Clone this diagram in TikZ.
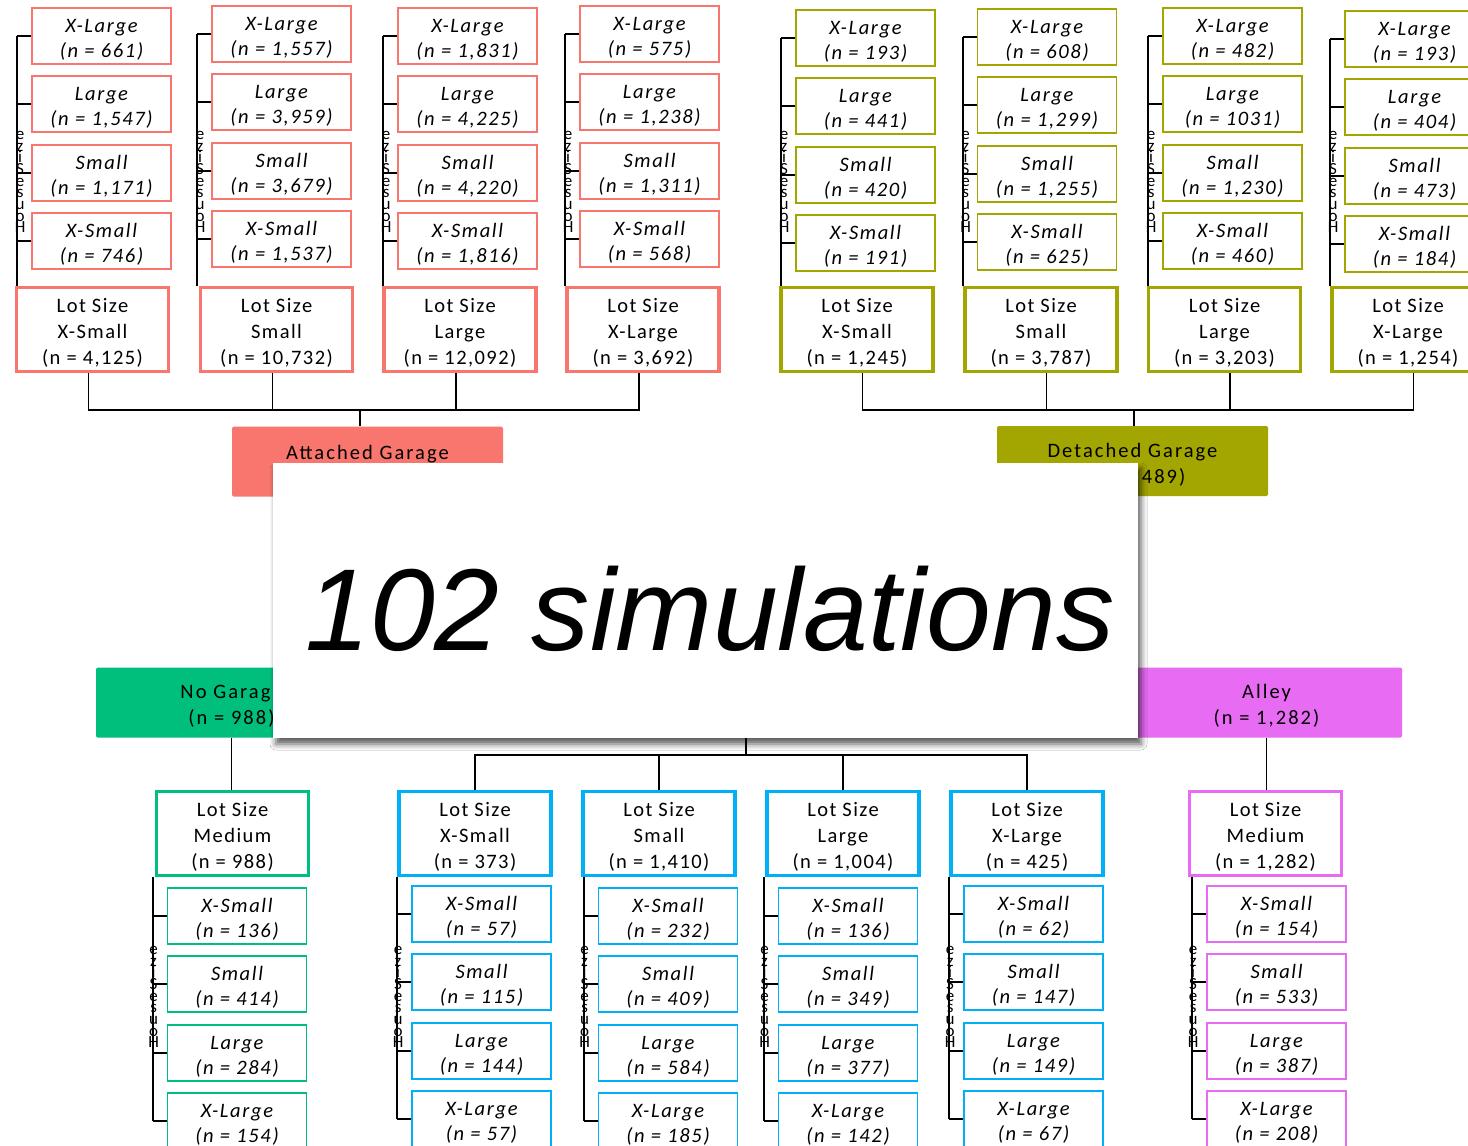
\documentclass[tikz,border=0pt]{standalone}
\usepackage{fontspec}
\setmainfont{Carlito}
\newfontfamily\cf[LetterSpace=7]{Carlito}
\newfontfamily\cfi[LetterSpace=8]{Carlito}
\newfontfamily\cfh[LetterSpace=10]{Carlito}
\newfontfamily\bigf{Liberation Sans}
\usetikzlibrary{shadows.blur}
\definecolor{cCoral}{HTML}{F8766D}
\definecolor{cOlive}{HTML}{A3A500}
\definecolor{cGreen}{HTML}{00BF7D}
\definecolor{cBlue}{HTML}{00B0F6}
\definecolor{cPink}{HTML}{E76BF3}
\newcommand\tstrut{\rule{0pt}{21pt}}
\tikzset{
  leaf/.style={draw=#1, line width=1.8pt, fill=white, minimum width=139pt, minimum height=56pt,
    inner sep=0pt, align=center, font=\cfi\itshape\fontsize{20.5}{25}\selectfont},
  lot/.style={draw=#1, line width=3.5pt, fill=white, minimum width=152pt, minimum height=84pt,
    inner sep=0pt, align=center, font=\cf\fontsize{20.5}{26}\selectfont},
  hdr/.style={fill=#1, rounded corners=1.5pt, minimum width=271pt, minimum height=70pt,
    inner sep=0pt, align=center, font=\cfh\fontsize{20.5}{26}\selectfont},
  conn/.style={line width=1.8pt, black},
  hsz/.style={inner sep=0pt, align=center, font=\fontsize{17}{11.7}\selectfont},
  coverbox/.style={fill=white, minimum width=865pt, minimum height=275pt, inner sep=0pt,
    blur shadow={shadow xshift=3pt, shadow yshift=-6pt, shadow blur radius=6pt, shadow opacity=65}},
}
% top columns: prefix, colour, leaf centre x, top of first leaf, n for X-Large, Large, Small, X-Small
\newcommand\TopCol[8]{%
  \node[leaf=#2] (#1a) at (#3,#4+29) {\tstrut X-Large\\(n = #5)};
  \node[leaf=#2] (#1b) at (#3,#4+97.3) {\tstrut Large\\(n = #6)};
  \node[leaf=#2] (#1c) at (#3,#4+165.6) {\tstrut Small\\(n = #7)};
  \node[leaf=#2] (#1d) at (#3,#4+234) {\tstrut X-Small\\(n = #8)};
}
% bottom columns: prefix, colour, leaf centre x, top of first leaf, n for X-Small, Small, Large, X-Large
\newcommand\BotCol[8]{%
  \node[leaf=#2] (#1a) at (#3,#4+29) {\tstrut X-Small\\(n = #5)};
  \node[leaf=#2] (#1b) at (#3,#4+97.3) {\tstrut Small\\(n = #6)};
  \node[leaf=#2] (#1c) at (#3,#4+165.6) {\tstrut Large\\(n = #7)};
  \node[leaf=#2] (#1d) at (#3,#4+234) {\tstrut X-Large\\(n = #8)};
}
\newcommand\HSText{\lineskiplimit=-30pt\relax e\\z\\i\\S\\e\\s\\u\\o\\H}
\newcommand\TopBracket[1]{%
  \draw[conn] ([xshift=-14pt]#1a.west) coordinate (#1k) -- (#1a.west);
  \draw[conn] (#1b.west -| #1k) -- (#1b.west);
  \draw[conn] (#1c.west -| #1k) -- (#1c.west);
  \draw[conn] (#1d.west -| #1k) -- (#1d.west);
  \draw[conn] (#1k) -- (#1k |- #1L.north);
  \coordinate (#1y) at (0,182);
  \node[hsz, xshift=3pt] (#1h) at (#1k |- #1y) {\HSText};
}
\newcommand\BotBracket[1]{%
  \draw[conn] ([xshift=-14pt]#1a.west) coordinate (#1k) -- (#1a.west);
  \draw[conn] (#1b.west -| #1k) -- (#1b.west);
  \draw[conn] (#1c.west -| #1k) -- (#1c.west);
  \draw[conn] (#1d.west -| #1k) coordinate (#1e) -- (#1d.west);
  \draw[conn] (#1k |- #1L.south) -- (#1e);
  \coordinate (#1y) at (0,997);
  \node[hsz, xshift=1pt] (#1h) at (#1k |- #1y) {\HSText};
}
\begin{document}
\begin{tikzpicture}[x=1pt,y=-1pt]
\useasboundingbox (0,0) rectangle (1468,1146);
\clip (0,0) rectangle (1468,1146);
\fill[white] (0,0) rectangle (1468,1146);

% ---------- Attached garage ----------
\TopCol{a1}{cCoral}{101.5}{7}{661}{1,547}{1,171}{746}
\node[lot=cCoral] (a1L) at (92.5,329.5) {\tstrut Lot Size\\X-Small\\(n = 4,125)};
\TopCol{a2}{cCoral}{281.5}{5}{1,557}{3,959}{3,679}{1,537}
\node[lot=cCoral] (a2L) at (276.5,329.5) {\tstrut Lot Size\\Small\\(n = 10,732)};
\TopCol{a3}{cCoral}{467.5}{7}{1,831}{4,225}{4,220}{1,816}
\node[lot=cCoral] (a3L) at (460,329.5) {\tstrut Lot Size\\Large\\(n = 12,092)};
\TopCol{a4}{cCoral}{649.5}{5}{575}{1,238}{1,311}{568}
\node[lot=cCoral] (a4L) at (643,329.5) {\tstrut Lot Size\\X-Large\\(n = 3,692)};
\TopBracket{a1}\TopBracket{a2}\TopBracket{a3}\TopBracket{a4}

% ---------- Detached garage ----------
\TopCol{d1}{cOlive}{865.5}{9}{193}{441}{420}{191}
\node[lot=cOlive] (d1L) at (857,329.5) {\tstrut Lot Size\\X-Small\\(n = 1,245)};
\TopCol{d2}{cOlive}{1047}{8}{608}{1,299}{1,255}{625}
\node[lot=cOlive] (d2L) at (1041,329.5) {\tstrut Lot Size\\Small\\(n = 3,787)};
\TopCol{d3}{cOlive}{1232.5}{7}{482}{1031}{1,230}{460}
\node[lot=cOlive] (d3L) at (1224.5,329.5) {\tstrut Lot Size\\Large\\(n = 3,203)};
\TopCol{d4}{cOlive}{1414.5}{10}{193}{404}{473}{184}
\node[lot=cOlive] (d4L) at (1408,329.5) {\tstrut Lot Size\\X-Large\\(n = 1,254)};
\TopBracket{d1}\TopBracket{d2}\TopBracket{d3}\TopBracket{d4}

% ---------- headers ----------
\node[hdr=cCoral] (att) at (367.5,461.5) {\tstrut Attached Garage\\\mbox{}};
\node[hdr=cOlive] (det) at (1132.5,461) {\tstrut Detached Garage\\(n = 9,489)};
\node[hdr=cGreen] (nog) at (231.5,702.5) {\tstrut No Garage\\(n = 988)};
\node[hdr=cPink] (aly) at (1266.5,702.5) {\tstrut Alley\\(n = 1,282)};
\coordinate (car) at (746,720);

% top buses
\coordinate (attBus) at (360,410);
\draw[conn] ([xshift=-4pt]a1L.south) |- ([xshift=-4pt]a4L.south |- attBus) -- ([xshift=-4pt]a4L.south);
\draw[conn] ([xshift=-4pt]a2L.south) -- ([xshift=-4pt]a2L.south |- attBus);
\draw[conn] ([xshift=-4pt]a3L.south) -- ([xshift=-4pt]a3L.south |- attBus);
\draw[conn] (attBus) -- (attBus |- att.north);
\coordinate (detBus) at (1134,410);
\draw[conn] ([xshift=5.5pt]d1L.south) |- ([xshift=5.5pt]d4L.south |- detBus) -- ([xshift=5.5pt]d4L.south);
\draw[conn] ([xshift=5.5pt]d2L.south) -- ([xshift=5.5pt]d2L.south |- detBus);
\draw[conn] ([xshift=5.5pt]d3L.south) -- ([xshift=5.5pt]d3L.south |- detBus);
\draw[conn] (detBus) -- (detBus |- det.north);

% ---------- bottom ----------
\node[lot=cGreen] (n1L) at (232.5,833.5) {\tstrut Lot Size\\Medium\\(n = 988)};
\BotCol{n1}{cGreen}{237}{887}{136}{414}{284}{154}
\node[lot=cBlue] (b1L) at (475,833.5) {\tstrut Lot Size\\X-Small\\(n = 373)};
\BotCol{b1}{cBlue}{481.5}{885}{57}{115}{144}{57}
\node[lot=cBlue] (b2L) at (659,833.5) {\tstrut Lot Size\\Small\\(n = 1,410)};
\BotCol{b2}{cBlue}{668}{887}{232}{409}{584}{185}
\node[lot=cBlue] (b3L) at (843,833.5) {\tstrut Lot Size\\Large\\(n = 1,004)};
\BotCol{b3}{cBlue}{848}{887}{136}{349}{377}{142}
\node[lot=cBlue] (b4L) at (1027,833.5) {\tstrut Lot Size\\X-Large\\(n = 425)};
\BotCol{b4}{cBlue}{1033.5}{885}{62}{147}{149}{67}
\node[lot=cPink] (p1L) at (1265.5,833.5) {\tstrut Lot Size\\Medium\\(n = 1,282)};
\BotCol{p1}{cPink}{1276.5}{885}{154}{533}{387}{208}
\BotBracket{n1}\BotBracket{b1}\BotBracket{b2}\BotBracket{b3}\BotBracket{b4}\BotBracket{p1}

\draw[conn] (nog.south) -- (nog.south |- n1L.north);
\draw[conn] (aly.south) -- (aly.south |- p1L.north);
\coordinate (carBus) at (746,755);
\draw[conn] (car) -- (carBus);
\draw[conn] (b1L.north) |- (b4L.north |- carBus) -- (b4L.north);
\draw[conn] (b2L.north) -- (b2L.north |- carBus);
\draw[conn] (b3L.north) -- (b3L.north |- carBus);

% ---------- cover ----------
\node[coverbox] (cover) at (705.5,600.5) {};
\node[font=\bigf\itshape\fontsize{116.5}{120}\selectfont, anchor=base, inner sep=0pt] (sim) at (710,650) {102 simulations};
\end{tikzpicture}
\end{document}
